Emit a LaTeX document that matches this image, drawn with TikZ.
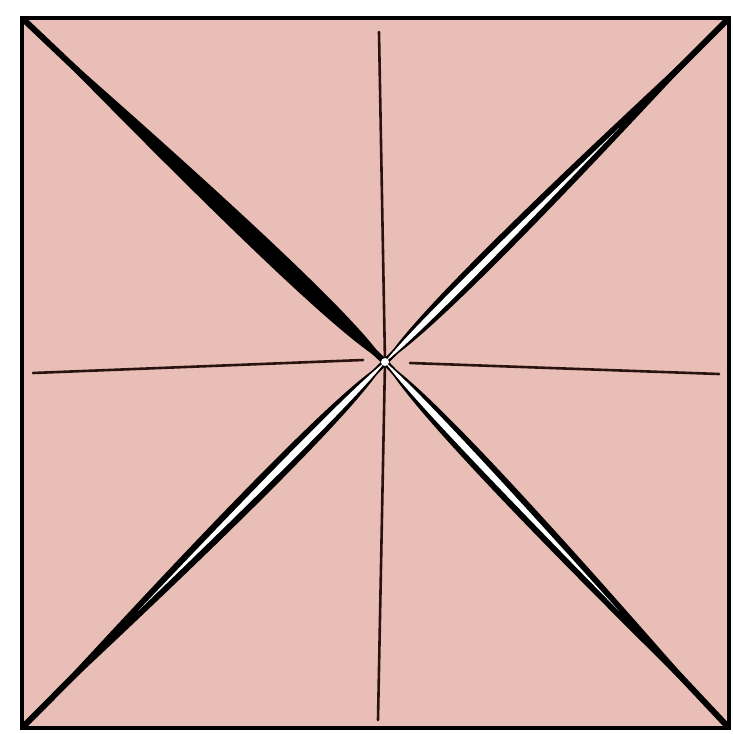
\documentclass[tikz,border=0pt]{standalone}
\usepackage{tikz}
\usetikzlibrary{calc}
\definecolor{papel}{HTML}{E9BEB6}
\definecolor{pliegue}{HTML}{2A1210}

\begin{document}
\begin{tikzpicture}[x=1pt, y=-1pt,
        hoja/.style={draw=black, fill=papel, line width=4.5pt},
        marca/.style={draw=pliegue, line width=2.6pt, line cap=round},
        arista/.style={draw=black, line width=6pt}]
    \useasboundingbox (0,0) rectangle (733,734);
    \coordinate (a) at (22,18);
    \coordinate (b) at (729,18);
    \coordinate (c) at (729,728);
    \coordinate (d) at (22,728);
    \coordinate (m) at (385,362);
    \draw[hoja] (a) -- (b) -- (c) -- (d) -- cycle;
    % marcas finas
    \coordinate (mi) at (33,373);
    \coordinate (mi2) at (363,360);
    \coordinate (md) at (719,374);
    \coordinate (md2) at (410,363);
    \coordinate (ms) at (379,32);
    \coordinate (mb) at (378,720);
    \draw[marca] (mi) -- (mi2);
    \draw[marca] (md2) -- (md);
    \draw[marca] (ms) -- (m) -- (mb);
    % pliegues diagonales
    \foreach \p in {a,b,c,d} {
        \draw[arista] (\p) -- (m);
        \fill (\p) .. controls ($(m)!0.5!2.3:(\p)$) and ($(m)!0.1!16:(\p)$) .. (m)
            .. controls ($(m)!0.1!-16:(\p)$) and ($(m)!0.5!-2.3:(\p)$) .. (\p);
    }
    \foreach \p in {b,c,d} {
        \fill[white] ($(m)!0.68!(\p)$) .. controls ($(m)!0.4!0.9:(\p)$) and ($(m)!0.08!8:(\p)$) .. (m)
            .. controls ($(m)!0.08!-8:(\p)$) and ($(m)!0.4!-0.9:(\p)$) .. cycle;
    }
    \fill[white] (m) circle (4);
\end{tikzpicture}
\end{document}
